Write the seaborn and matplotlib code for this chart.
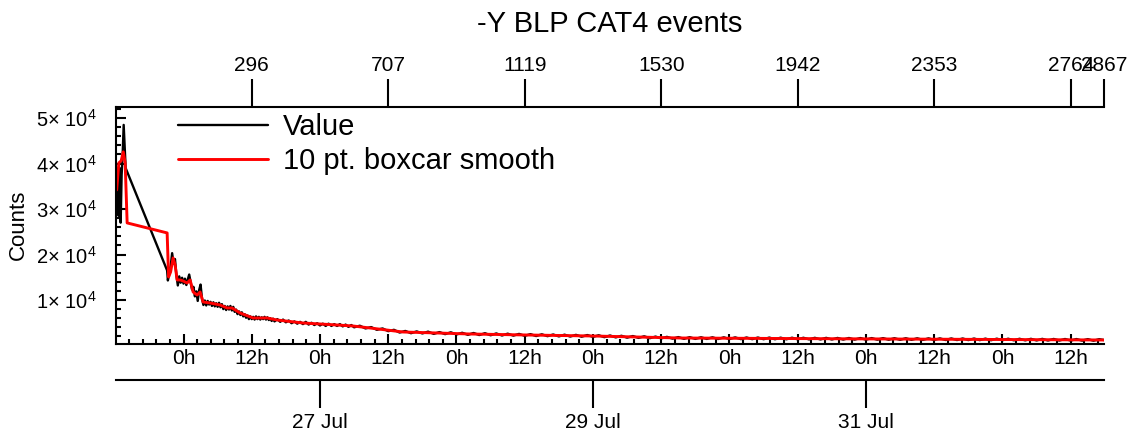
import numpy as np
import pandas as pd
import matplotlib
matplotlib.use("Agg")
import matplotlib.pyplot as plt
import matplotlib.dates as mdates
import seaborn as sns
from matplotlib.ticker import MultipleLocator, FuncFormatter, NullLocator

# ---------------- data (hours measured from 26 Jul 00:00) ----------------
BASE = pd.Timestamp("2015-07-26 00:00")

# black "Value" series: first burst before the data gap
value_hours_a = [-11.75, -11.58, -11.40, -11.22, -11.05, -10.88, -10.70, -10.52, -10.35, -10.17, -2.88]
value_counts_a = [30000, 36500, 28500, 39000, 27000, 37500, 42000, 48500, 44000, 39000, 16500]

# quarter-hour samples -2.75 h .. 16 h
value_hours_b = list(np.arange(-2.75, 16.01, 0.25))
value_counts_b = [14300, 15800, 17500, 20300, 18000, 19000, 15500, 13200, 15200, 13800, 14900,
                  13600, 14700, 13300, 14500, 15600, 13900, 12300, 12900, 10800, 11900, 9800, 12200,
                  13400, 10300, 8900, 9900, 8800, 9800, 9000, 9600, 8700, 9500, 8600, 9300,
                  8500, 9400, 8400, 9100, 8000, 8700, 7800, 8600, 7900, 8700, 7700, 8500,
                  7400, 7900, 6900, 7500, 6700, 7300, 6400, 6900, 6100, 6600, 5800, 6400,
                  5800, 6300, 5700, 6400, 5800, 6300, 5700, 6200, 5800, 6300, 5700, 6200,
                  5600, 6000, 5400, 5900, 5300]

# half-hour samples 16.5 h .. 30 h
value_hours_c = list(np.arange(16.5, 30.01, 0.5))
value_counts_c = [5800, 5200, 5700, 5100, 5500, 4900, 5300, 4800, 5200, 4700, 5200, 4600, 5000, 4500,
                  4900, 4400, 4800, 4300, 4800, 4300, 4700, 4300, 4700, 4200, 4600, 4100, 4500, 4000]

# hourly samples 31 h .. 161 h, then the last point
value_hours_d = list(np.arange(31, 162, 1.0)) + [161.85]
value_counts_d = [4350, 3750, 4050, 3450, 3750, 3150, 3450, 2850, 3200, 2700, 3100, 2650, 3050, 2550,
                  2950, 2500, 2900, 2420, 2800, 2350, 2750, 2300, 2700, 2250, 2650, 2200, 2600, 2170,
                  2550, 2120, 2500, 2080, 2460, 2050, 2420, 2000, 2380, 1970, 2340, 1930, 2300, 1890,
                  2250, 1830, 2200, 1780, 2140, 1720, 2080, 1670, 2020, 1610, 1960, 1560, 1900, 1500,
                  1850, 1460, 1830, 1450, 1810, 1440, 1800, 1430, 1790, 1420, 1780, 1400, 1760, 1390,
                  1750, 1380, 1740, 1370, 1720, 1360, 1710, 1350, 1700, 1340, 1690, 1330, 1680, 1320,
                  1660, 1300, 1650, 1290, 1640, 1280, 1630, 1270, 1620, 1260, 1600, 1250, 1590, 1240,
                  1580, 1230, 1570, 1220, 1560, 1210, 1550, 1200, 1540, 1190, 1530, 1180, 1510, 1160,
                  1500, 1150, 1490, 1140, 1480, 1130, 1470, 1110, 1460, 1100, 1440, 1090, 1430, 1080,
                  1420, 1070, 1400, 1050, 1390, 1200]

# red "10 pt. boxcar smooth" series
smooth_hours = [-11.75, -11.37, -10.96, -10.59, -10.26, -9.91, -2.88, -2.62, -2.27, -1.83, -1.48,
                -1.12, -0.6, -0.07, 0.63, 1.16, 1.69, 2.39, 2.92, 3.44, 4.67, 6.43, 7.66, 8.54,
                9.94, 12.23, 14.69, 16.44, 21.0, 27.0, 29.8, 32.8, 38.6, 44.6, 50.4, 60.4, 72.0,
                87.3, 104.8, 124.2, 143.5, 161.85]
smooth_counts = [34200, 40150, 40600, 42570, 40150, 26950, 24750, 15070, 16170, 19250, 17710,
                 14410, 14410, 14190, 13750, 14410, 11770, 11110, 11770, 9570, 9350, 8910, 8250, 8250,
                 7150, 6050, 6050, 5610, 4950, 4510, 4290, 3850, 2970, 2750, 2530, 2310, 2090,
                 1650, 1540, 1430, 1320, 1210]

# top axis: data point index at given times
top_tick_hours = [12, 36, 60, 84, 108, 132, 156, 161.85]
top_tick_labels = ["296", "707", "1119", "1530", "1942", "2353", "2764", "2867"]

date_ticks = ["2015-07-27", "2015-07-29", "2015-07-31"]
date_labels = ["27 Jul", "29 Jul", "31 Jul"]

x_range_hours = [-11.87, 161.85]
y_range = [440, 52500]

# ---------------- styling ----------------
sns.set_style("ticks")
plt.rcParams["font.family"] = ["Liberation Sans", "DejaVu Sans"]
plt.rcParams["mathtext.fontset"] = "custom"
plt.rcParams["mathtext.rm"] = "Liberation Sans"
plt.rcParams["mathtext.it"] = "Liberation Sans:italic"
plt.rcParams["axes.linewidth"] = 1.5
for k in ["text.color", "axes.labelcolor", "xtick.color", "ytick.color", "axes.edgecolor",
          "xtick.labelcolor", "ytick.labelcolor"]:
    plt.rcParams[k] = "black"

def to_time(hours):
    return BASE + pd.to_timedelta(np.asarray(hours, dtype=float), unit="h")

val_hours = value_hours_a + value_hours_b + value_hours_c + value_hours_d
val_counts = value_counts_a + value_counts_b + value_counts_c + value_counts_d
df_val = pd.DataFrame({"time": to_time(val_hours), "counts": val_counts})
df_smooth = pd.DataFrame({"time": to_time(smooth_hours), "counts": smooth_counts})

fig = plt.figure(figsize=(11.37, 4.43), dpi=100)
W, H = 1137, 443
ax = fig.add_axes([116 / W, 1 - 343.5 / H, (1104 - 116) / W, (343.5 - 106.7) / H])

sns.lineplot(data=df_val, x="time", y="counts", ax=ax, color="black", lw=1.7,
             estimator=None, sort=False, label="Value")
sns.lineplot(data=df_smooth, x="time", y="counts", ax=ax, color="#ff0000", lw=2.1,
             estimator=None, sort=False, label="10 pt. boxcar smooth")

ax.set_xlim(to_time(x_range_hours[:1])[0], to_time(x_range_hours[1:])[0])
ax.set_ylim(*y_range)

ax.spines["right"].set_visible(False)
ax.spines["top"].set_visible(False)

# bottom hour ticks
ax.xaxis.set_major_locator(MultipleLocator(0.5))
ax.xaxis.set_minor_locator(MultipleLocator(0.1))
ax.xaxis.set_major_formatter(FuncFormatter(lambda v, p: f"{mdates.num2date(v).hour}h"))
ax.tick_params(axis="x", which="major", direction="in", length=7, width=1.5,
               labelsize=15, pad=4, top=False)
ax.tick_params(axis="x", which="minor", direction="in", length=3.5, width=1.5, top=False)

# y ticks
ax.yaxis.set_major_locator(MultipleLocator(10000))
ax.yaxis.set_minor_locator(MultipleLocator(2000))
ax.yaxis.set_major_formatter(FuncFormatter(lambda v, p: f"{int(round(v / 1e4))}× 10$^{{4}}$"))
ax.tick_params(axis="y", which="major", direction="in", length=7, width=1.5,
               labelsize=14.5, pad=14, right=False)
ax.tick_params(axis="y", which="minor", direction="in", length=3.5, width=1.5, right=False)
ax.set_xlabel("")
ax.set_ylabel("Counts", fontsize=16)
ax.yaxis.set_label_coords((29 - 116) / 988, 0.5)

# top index axis
top = ax.secondary_xaxis("top")
top.set_xticks(mdates.date2num(to_time(top_tick_hours)), top_tick_labels)
top.xaxis.set_minor_locator(NullLocator())
top.tick_params(axis="x", direction="out", length=20, width=1.5, labelsize=15, pad=3)
top.spines["top"].set_linewidth(1.5)

# date axis below
dax = ax.secondary_xaxis(-36.5 / 236.8)
dax.set_xticks(mdates.date2num(pd.to_datetime(date_ticks)), date_labels)
dax.xaxis.set_minor_locator(NullLocator())
dax.tick_params(axis="x", direction="out", length=20, width=1.5, labelsize=15, pad=4)
dax.spines["bottom"].set_linewidth(1.5)

leg = ax.legend(loc="upper left", bbox_to_anchor=(178 / W, 1 - 113 / H),
                bbox_transform=fig.transFigure, frameon=False, fontsize=21,
                handlelength=3.1, handletextpad=0.5, labelspacing=0.2,
                borderpad=0, borderaxespad=0)

fig.text(610 / W, 1 - 24 / H, "-Y BLP CAT4 events", ha="center", va="center", fontsize=21)

fig.savefig("out.png", dpi=100)
